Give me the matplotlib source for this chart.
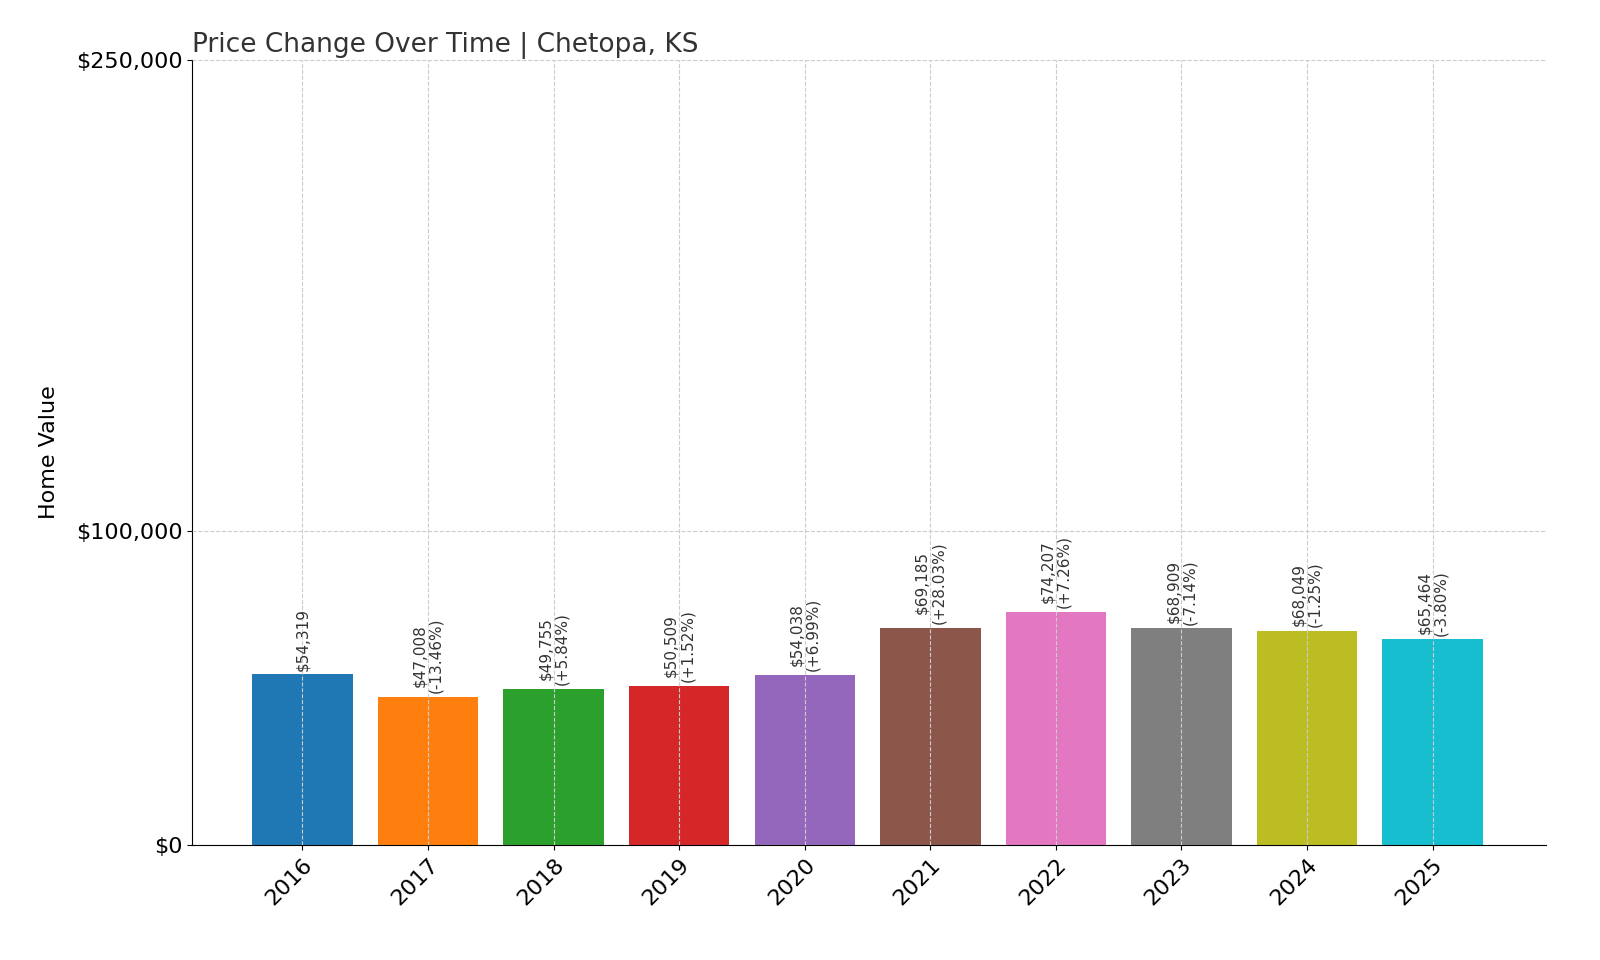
import matplotlib
matplotlib.use("Agg")
import matplotlib.pyplot as plt

years = ["2016", "2017", "2018", "2019", "2020", "2021", "2022", "2023", "2024", "2025"]
values = [54319, 47008, 49755, 50509, 54038, 69185, 74207, 68909, 68049, 65464]
changes = [None, "-13.46%", "+5.84%", "+1.52%", "+6.99%", "+28.03%", "+7.26%", "-7.14%", "-1.25%", "-3.80%"]
colors = ["#1f77b4", "#ff7f0e", "#2ca02c", "#d62728", "#9467bd",
          "#8c564b", "#e377c2", "#7f7f7f", "#bcbd22", "#17becf"]

fig = plt.figure(figsize=(16, 9.6), dpi=100)
ax = fig.add_axes([0.12, 0.12, 0.846, 0.8175])

x = range(len(years))
ax.bar(x, values, color=colors, width=0.8, zorder=2)

for i, v in enumerate(values):
    label = f"${v:,}" if changes[i] is None else f"${v:,}\n({changes[i]})"
    ax.text(i, v + 1200, label, rotation=90, ha="center", va="bottom",
            fontsize=11, color="#333333", zorder=3, linespacing=1.1)

ax.set_ylim(0, 250000)
ax.set_xlim(-0.88, 9.9)
ax.set_yticks([0, 100000, 250000])
ax.set_yticklabels(["$0", "$100,000", "$250,000"], fontsize=16)
ax.set_xticks(list(x))
ax.set_xticklabels(years, rotation=45, ha="right", rotation_mode="anchor", fontsize=16)
ax.set_ylabel("Home Value", fontsize=16, labelpad=12)
ax.set_title("Price Change Over Time | Chetopa, KS", loc="left", fontsize=19, color="#333333")
ax.grid(True, linestyle="--", color="#cccccc", linewidth=0.8, zorder=0)
ax.set_axisbelow(False)
for sp in ["top", "right"]:
    ax.spines[sp].set_visible(False)

fig.savefig("out.png", dpi=100)
